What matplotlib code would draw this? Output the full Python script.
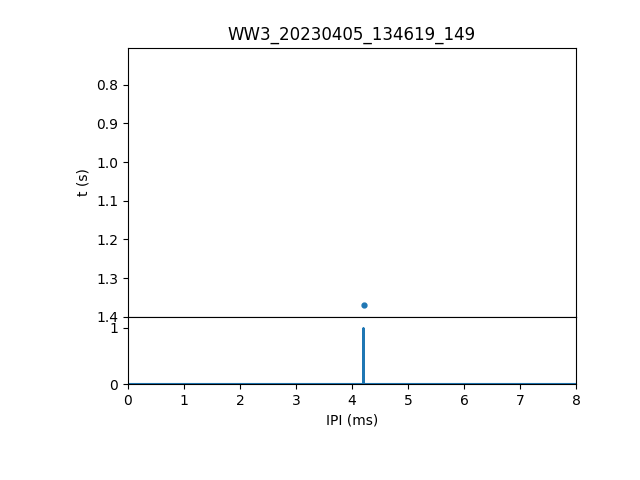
import numpy as np
import matplotlib
matplotlib.use('Agg')
from matplotlib import pyplot as plt

# data
title = 'WW3_20230405_134619_149'
ipi_ms = [4.21]          # click inter-pulse interval
t_s = [1.37]             # click time
hist_x = [0.0, 4.19, 4.2, 4.205, 4.21, 8.0]
hist_y = [0.0, 0.0, 0.0, 1.0, 0.0, 0.0]

fig = plt.figure(figsize=(6.4, 4.8), dpi=100)
gs = fig.add_gridspec(2, 1, height_ratios=[4, 1], hspace=0,
                      left=0.2, right=0.9, top=0.9, bottom=0.2)
ax1 = fig.add_subplot(gs[0])
ax2 = fig.add_subplot(gs[1], sharex=ax1)

ax1.plot(ipi_ms, t_s, 'o', markersize=3.5, color='C0')
ax1.set_ylim(1.4, 0.705)
ax1.set_ylabel('t (s)')
ax1.set_title(title)
ax1.tick_params(axis='x', bottom=False, labelbottom=False)

ax2.plot(hist_x, hist_y, color='C0')
ax2.set_xlim(0, 8)
ax2.set_ylim(0, 1.2)
ax2.set_yticks([0, 1])
ax2.set_xlabel('IPI (ms)')

fig.savefig('out.png')
